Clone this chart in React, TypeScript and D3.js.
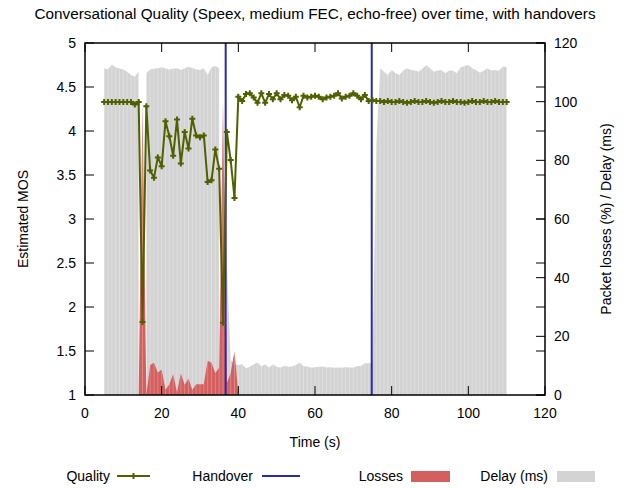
import React, { useEffect } from "react";
import * as d3 from "d3";

// one sample per second, starting at t = 5 s
const startSec = 5;

const quality = [
  4.33, 4.33, 4.33, 4.33, 4.33, 4.33, 4.33, 4.33, 4.30, 4.33,
  1.83, 4.28, 3.55, 3.47, 3.70, 3.60, 4.11, 3.94, 3.72, 4.13,
  3.63, 3.99, 3.80, 4.14, 3.95, 3.93, 3.95, 3.42, 3.44, 3.79,
  3.57, 1.82, 3.99, 3.67, 3.24, 4.39, 4.34, 4.42, 4.43, 4.38,
  4.32, 4.43, 4.32, 4.42, 4.36, 4.43, 4.36, 4.41, 4.40, 4.35,
  4.39, 4.27, 4.40, 4.38, 4.39, 4.40, 4.39, 4.36, 4.38, 4.39,
  4.40, 4.43, 4.37, 4.39, 4.40, 4.43, 4.40, 4.36, 4.41, 4.34,
  4.35, 4.34, 4.34, 4.33, 4.34, 4.33, 4.33, 4.34, 4.33, 4.32,
  4.33, 4.34, 4.33, 4.33, 4.34, 4.33, 4.32, 4.33, 4.34, 4.33,
  4.33, 4.34, 4.33, 4.33, 4.32, 4.33, 4.34, 4.33, 4.33, 4.34,
  4.33, 4.33, 4.34, 4.33, 4.33, 4.33,
];

const losses = [
  0, 0, 0, 0, 0, 0, 0, 0, 0, 0,
  100, 0, 10.2, 11, 7.6, 8.7, 1.7, 3.7, 7.2, 0.8,
  7.4, 3.4, 5.6, 1.7, 3.7, 3.7, 3.7, 11.7, 11, 7.4,
  9.4, 100, 4, 7.4, 15, 0, 0, 0, 0, 0,
  0, 0, 0, 0, 0, 0, 0, 0, 0, 0,
  0, 0, 0, 0, 0, 0, 0, 0, 0, 0,
  0, 0, 0, 0, 0, 0, 0, 0, 0, 0,
  0, 0, 0, 0, 0, 0, 0, 0, 0, 0,
  0, 0, 0, 0, 0, 0, 0, 0, 0, 0,
  0, 0, 0, 0, 0, 0, 0, 0, 0, 0,
  0, 0, 0, 0, 0, 0,
];

const delay: (number | null)[] = [
  111.4, 111, 112.7, 111.7, 111.3, 111, 110.2, 109.1, 108.5, 110.2,
  null, 109.7, 111, 111.2, 111.4, 111.7, 111.3, 111, 111.2, 111.4,
  110.8, 111.4, 111.9, 111.5, 111, 110.8, 111.4, 109.1, 111.7, 112.2,
  111.4, null, 45, 12, 10.5, 10.2, 10.5, 9.1, 9.6, 10.4,
  11.1, 9.7, 10.5, 9.3, 10.5, 9.6, 9.3, 10, 9.6, 9.7,
  10.2, 11.1, 9.8, 9.7, 9.3, 9.5, 9.6, 9.7, 9.4, 9.5,
  9.3, 9.4, 9.3, 9.5, 9.4, 9.3, 9.9, 9.9, 10.8, 10.8,
  11.0, 85, 111.4, 110.2, 109.1, 110.8, 109.8, 109.1, 110.5, 111.4,
  110.8, 110.6, 110.2, 111.2, 112.5, 111.4, 110.2, 110.6, 110.8, 109.7,
  110.6, 110.5, 109.7, 111.7, 112.2, 112.5, 111.4, 110.8, 109.9, 110.5,
  111.4, 110.6, 110.8, 110.5, 112.0, 111.8,
];

const handovers = [36.7, 74.8];

const xTicks = [0, 20, 40, 60, 80, 100, 120];
const yTicks = [1, 1.5, 2, 2.5, 3, 3.5, 4, 4.5, 5];
const y2Ticks = [0, 20, 40, 60, 80, 100, 120];

const W = 630;
const H = 488;
const left = 85, right = 545, top = 43, bottom = 395;
const font = "'Liberation Sans', Arial, Helvetica, sans-serif";

const green = "#4f6000";
const blue = "#2a2aa8";
const red = "#d45f5f";
const grey = "#d3d3d3";

export default function App() {
  useEffect(() => {
    document.body.style.margin = "0";
  }, []);

  const x = d3.scaleLinear().domain([0, 120]).range([left, right]);
  const y = d3.scaleLinear().domain([1, 5]).range([bottom, top]);
  const y2 = d3.scaleLinear().domain([0, 120]).range([bottom, top]);

  const t = (i: number) => startSec + i;

  const delayArea = d3
    .area<number | null>()
    .defined((d) => d != null)
    .x((d, i) => x(t(i)))
    .y0(y2(0))
    .y1((d) => y2(d as number));

  const lossArea = d3
    .area<number>()
    .x((d, i) => x(t(i)))
    .y0(y2(0))
    .y1((d) => y2(d));

  const qLine = d3
    .line<number>()
    .x((d, i) => x(t(i)))
    .y((d) => y(d));

  const marker = d3.symbol().type(d3.symbolCross).size(20)();

  const tick = 9;

  return (
    <svg width={W} height={H} style={{ display: "block", background: "#fff" }} fontFamily={font}>
      <text x={315} y={19} textAnchor="middle" fontSize={15.3}>
        Conversational Quality (Speex, medium FEC, echo-free) over time, with handovers
      </text>

      {/* delay */}
      <path d={delayArea(delay) || ""} fill={grey} />
      {delay.map((d, i) =>
        d == null ? null : (
          <line key={"ds" + i} x1={x(t(i))} x2={x(t(i))} y1={y2(0)} y2={y2(d)}
            stroke="#fff" strokeOpacity={0.35} strokeWidth={0.8} />
        )
      )}

      {/* losses */}
      <path d={lossArea(losses) || ""} fill={red} />
      {losses.map((d, i) =>
        d <= 0 ? null : (
          <line key={"ls" + i} x1={x(t(i))} x2={x(t(i))} y1={y2(0)} y2={y2(d)}
            stroke="#fff" strokeOpacity={0.3} strokeWidth={0.8} />
        )
      )}

      {/* handovers */}
      {handovers.map((h) => (
        <line key={h} x1={x(h)} x2={x(h)} y1={top} y2={bottom} stroke={blue} strokeWidth={2} />
      ))}

      {/* quality */}
      <path d={qLine(quality) || ""} fill="none" stroke={green} strokeWidth={2} />
      {quality.map((d, i) => (
        <path key={"q" + i} d={marker || ""} transform={`translate(${x(t(i))},${y(d)})`} fill={green} />
      ))}

      {/* frame */}
      <rect x={left} y={top} width={right - left} height={bottom - top} fill="none" stroke="#000" strokeWidth={1.5} />

      {/* x ticks */}
      {xTicks.map((v) => (
        <g key={"x" + v}>
          <line x1={x(v)} x2={x(v)} y1={bottom} y2={bottom - tick} stroke="#000" />
          <line x1={x(v)} x2={x(v)} y1={top} y2={top + tick} stroke="#000" />
          <text x={x(v)} y={418} textAnchor="middle" fontSize={14}>{v}</text>
        </g>
      ))}

      {/* y ticks (left, mirrored right) */}
      {yTicks.map((v) => (
        <g key={"y" + v}>
          <line x1={left} x2={left + tick} y1={y(v)} y2={y(v)} stroke="#000" />
          <line x1={right} x2={right - tick} y1={y(v)} y2={y(v)} stroke="#000" />
          <text x={76} y={y(v) + 5} textAnchor="end" fontSize={14}>{v}</text>
        </g>
      ))}

      {/* y2 ticks */}
      {y2Ticks.map((v) => (
        <g key={"y2" + v}>
          <line x1={right} x2={right - tick} y1={y2(v)} y2={y2(v)} stroke="#000" />
          <text x={554} y={y2(v) + 5} textAnchor="start" fontSize={14}>{v}</text>
        </g>
      ))}

      {/* axis labels */}
      <text x={315} y={447} textAnchor="middle" fontSize={14}>Time (s)</text>
      <text transform="translate(28,219) rotate(-90)" textAnchor="middle" fontSize={14}>Estimated MOS</text>
      <text transform="translate(611,219) rotate(-90)" textAnchor="middle" fontSize={14}>
        Packet losses (%) / Delay (ms)
      </text>

      {/* legend */}
      <g fontSize={14}>
        <text x={110} y={481} textAnchor="end">Quality</text>
        <line x1={117} x2={150} y1={476} y2={476} stroke={green} strokeWidth={2} />
        <path d={marker || ""} transform="translate(133.5,476)" fill={green} />

        <text x={253} y={481} textAnchor="end">Handover</text>
        <line x1={262} x2={300} y1={476} y2={476} stroke={blue} strokeWidth={2} />

        <text x={403} y={481} textAnchor="end">Losses</text>
        <rect x={411} y={471} width={39} height={11} fill={red} />

        <text x={548} y={481} textAnchor="end">Delay (ms)</text>
        <rect x={557} y={471} width={38} height={11} fill={grey} />
      </g>
    </svg>
  );
}
